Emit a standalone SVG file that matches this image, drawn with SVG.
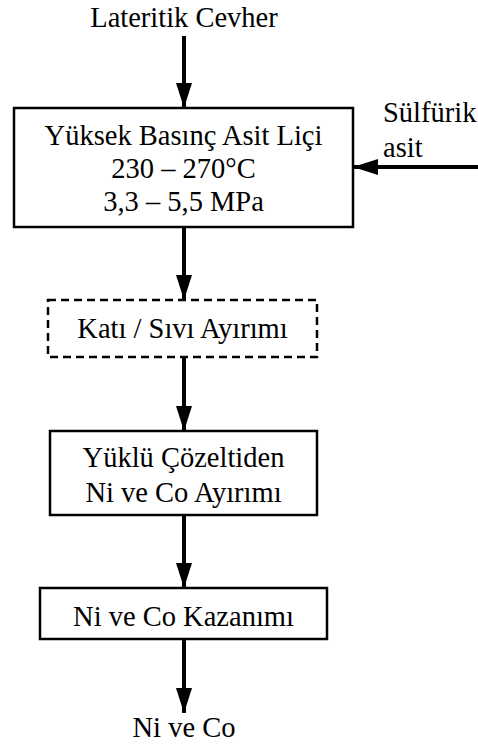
<svg xmlns="http://www.w3.org/2000/svg" width="478" height="744" viewBox="0 0 478 744">
<style>
text{font-family:"Liberation Serif","Times New Roman",serif;font-size:28.5px;fill:#000}
.c{text-anchor:middle}
.box{fill:#fff;stroke:#000;stroke-width:2.5}
.dash{fill:#fff;stroke:#000;stroke-width:2.5;stroke-dasharray:8 5}
.arr{stroke:#000;stroke-width:4;fill:none;marker-end:url(#ah)}
</style>
<defs>
<marker id="ah" markerUnits="userSpaceOnUse" markerWidth="25" markerHeight="16" refX="25" refY="8" orient="auto">
<path d="M0,0 L25,8 L0,16 z" fill="#000"/>
</marker>
</defs>
<g id="connectors">
<line class="arr" x1="184" y1="36" x2="184" y2="108"/>
<line class="arr" x1="478" y1="167" x2="353" y2="167"/>
<line class="arr" x1="184" y1="227" x2="184" y2="300"/>
<line class="arr" x1="184" y1="357" x2="184" y2="431"/>
<line class="arr" x1="184" y1="515" x2="184" y2="588"/>
<line class="arr" x1="184" y1="639" x2="184" y2="713"/>
</g>
<g id="input">
<text class="c" x="184" y="27">Lateritik Cevher</text>
</g>
<g id="acid">
<text x="383" y="122">Sülfürik</text>
<text x="383" y="157">asit</text>
</g>
<g id="leach">
<rect class="box" x="14" y="108" width="339" height="119"/>
<text class="c" x="183.5" y="145">Yüksek Basınç Asit Liçi</text>
<text class="c" x="183.5" y="178">230 – 270°C</text>
<text class="c" x="183.5" y="211">3,3 – 5,5 MPa</text>
</g>
<g id="separation">
<rect class="dash" x="48" y="300" width="269" height="57"/>
<text class="c" x="182.5" y="338">Katı / Sıvı Ayırımı</text>
</g>
<g id="solution">
<rect class="box" x="50" y="431" width="267" height="84"/>
<text class="c" x="183.5" y="467">Yüklü Çözeltiden</text>
<text class="c" x="183.5" y="502">Ni ve Co Ayırımı</text>
</g>
<g id="recovery">
<rect class="box" x="40" y="588" width="287" height="51"/>
<text class="c" x="183.5" y="626">Ni ve Co Kazanımı</text>
</g>
<g id="output">
<text class="c" x="184" y="737">Ni ve Co</text>
</g>
</svg>
